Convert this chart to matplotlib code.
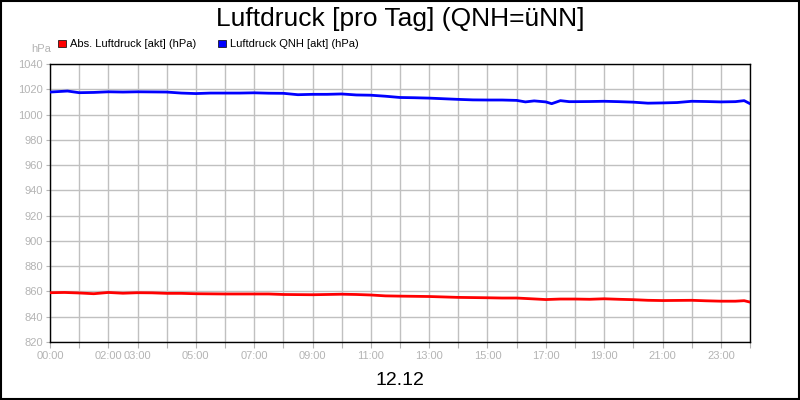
import matplotlib.pyplot as plt
from matplotlib.patches import Rectangle

# Stunden des Tages (12.12)
stunden_qnh = [0, 0.6, 1, 1.5, 2, 2.5, 3, 3.5, 4, 4.5, 5, 5.5, 6, 6.5, 7, 7.5, 8, 8.5, 9, 9.5,
               10, 10.5, 11, 11.5, 12, 12.5, 13, 13.5, 14, 14.5, 15, 15.5, 16, 16.3, 16.6, 17,
               17.2, 17.5, 17.8, 18, 18.5, 19, 19.5, 20, 20.5, 21, 21.5, 22, 22.5, 23, 23.5,
               23.8, 24]
luftdruck_qnh = [1017.8, 1018.6, 1017.3, 1017.5, 1018.0, 1017.8, 1018.0, 1017.9, 1017.8, 1017.0,
                 1016.6, 1017.0, 1017.0, 1017.0, 1017.2, 1016.9, 1016.8, 1015.7, 1016.0, 1016.0,
                 1016.3, 1015.5, 1015.3, 1014.5, 1013.5, 1013.3, 1013.0, 1012.5, 1012.0, 1011.6,
                 1011.5, 1011.5, 1011.2, 1010.0, 1010.8, 1010.0, 1008.6, 1011.0, 1010.2, 1010.2,
                 1010.3, 1010.5, 1010.2, 1009.8, 1009.0, 1009.2, 1009.5, 1010.5, 1010.3, 1010.0,
                 1010.2, 1011.0, 1008.6]

stunden_abs = [0, 0.5, 1, 1.5, 2, 2.5, 3, 3.5, 4, 4.5, 5, 6, 7, 7.5, 8, 9, 10, 10.5, 11, 11.5,
               12, 13, 14, 15, 15.5, 16, 16.5, 17, 17.5, 18, 18.5, 19, 19.5, 20, 20.5, 21, 21.5,
               22, 22.5, 23, 23.5, 23.8, 24]
luftdruck_abs = [859.0, 859.2, 858.8, 858.2, 859.2, 858.6, 859.0, 858.9, 858.5, 858.5, 858.2,
                 858.0, 858.0, 858.0, 857.6, 857.4, 857.8, 857.6, 857.2, 856.5, 856.3, 856.0,
                 855.3, 855.0, 854.8, 854.8, 854.2, 853.6, 854.0, 854.0, 853.8, 854.2, 853.8,
                 853.5, 853.0, 852.8, 852.9, 853.0, 852.6, 852.3, 852.3, 852.7, 851.6]

tick_stunden = [0, 2, 3, 5, 7, 9, 11, 13, 15, 17, 19, 21, 23]
tick_labels = ['00:00', '02:00', '03:00', '05:00', '07:00', '09:00', '11:00',
               '13:00', '15:00', '17:00', '19:00', '21:00', '23:00']

plt.rcParams['font.family'] = ['Liberation Sans', 'DejaVu Sans']
grau = '#b4b4b4'

fig = plt.figure(figsize=(8, 4), dpi=100)
ax = fig.add_axes([0.0625, 0.145, 0.875, 0.695])

ax.plot(stunden_abs, luftdruck_abs, color='#ff0000', linewidth=2, zorder=3)
ax.plot(stunden_qnh, luftdruck_qnh, color='#0000ff', linewidth=2, zorder=3)

ax.set_xlim(0, 24)
ax.set_ylim(820, 1040)
ax.set_yticks(range(820, 1041, 20))
alle_stunden = list(range(0, 25))
ax.set_xticks(alle_stunden)
ax.set_xticklabels([tick_labels[tick_stunden.index(h)] if h in tick_stunden else ''
                    for h in alle_stunden])
ax.tick_params(axis='x', length=4, color=grau, direction='out', pad=2.5,
               labelsize=8, labelcolor=grau)
ax.tick_params(axis='y', length=3, color=grau, labelsize=8, labelcolor=grau, pad=2)
ax.grid(True, color='#c0c0c0', linewidth=1)
ax.set_axisbelow(True)
for s in ax.spines.values():
    s.set_color('black')
    s.set_linewidth(1)

fig.text(0.5, 0.953, 'Luftdruck [pro Tag] (QNH=üNN]', ha='center', va='center', fontsize=19)
fig.text(0.5, 0.048, '12.12', ha='center', va='center', fontsize=14)
fig.text(0.039, 0.877, 'hPa', ha='left', va='center', fontsize=8, color=grau)

# Legende
fig.patches.append(Rectangle((0.073, 0.882), 0.009, 0.018, transform=fig.transFigure,
                             facecolor='#ff0000', edgecolor='black', linewidth=0.5))
fig.text(0.087, 0.891, 'Abs. Luftdruck [akt] (hPa)', ha='left', va='center', fontsize=8)
fig.patches.append(Rectangle((0.273, 0.882), 0.009, 0.018, transform=fig.transFigure,
                             facecolor='#0000ff', edgecolor='black', linewidth=0.5))
fig.text(0.287, 0.891, 'Luftdruck QNH [akt] (hPa)', ha='left', va='center', fontsize=8)

# Rahmen
fig.patches.append(Rectangle((0.001, 0.002), 0.998, 0.996, transform=fig.transFigure,
                             facecolor='none', edgecolor='black', linewidth=1.5))

fig.savefig('out.png', dpi=100)
